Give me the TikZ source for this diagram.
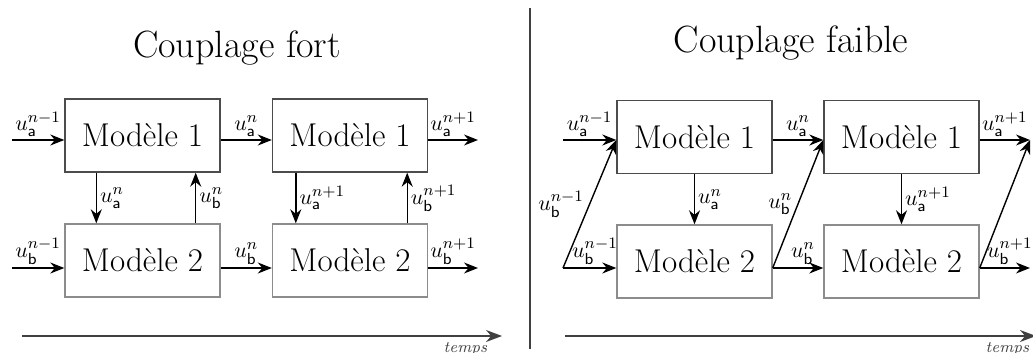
\documentclass[tikz,border=0pt]{standalone}
\usepackage{amsmath}
\usepackage{tikz}
\usetikzlibrary{positioning,arrows.meta}
\tikzset{
  mbox/.style ={rectangle, draw=black!70, fill=white, line width=0.7pt,
                minimum width=77.5pt, minimum height=36.5pt, inner sep=0pt,
                font=\fontsize{16.5}{18}\selectfont},
  mboxb/.style={mbox, draw=black!45},
  arr/.style  ={-{Stealth[length=7pt,width=5.5pt]}, line width=0.7pt},
  ulab/.style ={font=\fontsize{11}{12}\selectfont, inner sep=1.5pt},
  ttl/.style  ={font=\fontsize{19}{22}\selectfont, anchor=base},
  taxis/.style={-{Stealth[length=8pt,width=6pt]}, line width=0.8pt, black!75},
  tlab/.style ={font=\fontsize{8}{9}\selectfont\itshape, inner sep=1pt, anchor=north east},
}
\newcommand{\ua}[1]{$u_{\mathsf{a}}^{#1}$}
\newcommand{\ub}[1]{$u_{\mathsf{b}}^{#1}$}

\begin{document}
\begin{tikzpicture}[x=0.5pt,y=-0.5pt]
  \useasboundingbox (0,0) rectangle (1033,353);

  % couplage fort
  \node[ttl] (tfort) at (237,58) {Couplage fort};
  \node[mbox]  (m1a) at (142.5,135.5) {Mod\`ele 1};
  \node[mbox]  (m1b) at (350,135.5)   {Mod\`ele 1};
  \node[mboxb] (m2a) at (142.5,260.5) {Mod\`ele 2};
  \node[mboxb] (m2b) at (350,260.5)   {Mod\`ele 2};
  \coordinate (ina) at (12,140);
  \coordinate (inb) at (12,268);
  \coordinate (outa) at (478,140);
  \coordinate (outb) at (478,268);

  \draw[arr] (ina) -- (ina -| m1a.west) node[ulab, midway, above] {\ua{n-1}};
  \draw[arr] (inb) -- (inb -| m2a.west) node[ulab, midway, above] {\ub{n-1}};
  \draw[arr] (m1a.east |- ina) -- (m1b.west |- ina) node[ulab, midway, above] {\ua{n}};
  \draw[arr] (m2a.east |- inb) -- (m2b.west |- inb) node[ulab, midway, above] {\ub{n}};
  \draw[arr] (m1b.east |- ina) -- (outa) node[ulab, midway, above] {\ua{n+1}};
  \draw[arr] (m2b.east |- inb) -- (outb) node[ulab, midway, above] {\ub{n+1}};

  \draw[arr] ([xshift=16pt]m1a.south west) -- ([xshift=16pt]m2a.north west)
    node[ulab, midway, right] {\ua{n}};
  \draw[arr] ([xshift=-12.5pt]m2a.north east) -- ([xshift=-12.5pt]m1a.south east)
    node[ulab, midway, right] {\ub{n}};
  \draw[arr] ([xshift=12pt]m1b.south west) -- ([xshift=12pt]m2b.north west)
    node[ulab, midway, right] {\ua{n+1}};
  \draw[arr] ([xshift=-10.5pt]m2b.north east) -- ([xshift=-10.5pt]m1b.south east)
    node[ulab, midway, right] {\ub{n+1}};

  \coordinate (ta0) at (22,336);
  \coordinate (ta1) at (502,336);
  \draw[taxis] (ta0) -- (ta1) node[tlab, xshift=-6pt, yshift=-2pt] {temps};

  % separation
  \coordinate (sep0) at (530,8);
  \coordinate (sep1) at (530,349);
  \draw[line width=0.8pt, black!75] (sep0) -- (sep1);

  % couplage faible
  \node[ttl] (tfaible) at (791,53) {Couplage faible};
  \node[mbox]  (m1c) at (694.5,137)   {Mod\`ele 1};
  \node[mbox]  (m1d) at (901.5,137)   {Mod\`ele 1};
  \node[mboxb] (m2c) at (694.5,261.5) {Mod\`ele 2};
  \node[mboxb] (m2d) at (901.5,261.5) {Mod\`ele 2};
  \coordinate (inc) at (563,140);
  \coordinate (ind) at (563,268);
  \coordinate (outc) at (1030,140);
  \coordinate (outd) at (1030,268);

  \draw[arr] (inc) -- (inc -| m1c.west) node[ulab, midway, above] {\ua{n-1}};
  \draw[arr] (ind) -- (ind -| m2c.west) node[ulab, pos=0.6, above] {\ub{n-1}};
  \draw[arr] (ind) -- (inc -| m1c.west) node[ulab, midway, left=1pt] {\ub{n-1}};

  \draw[arr] (m1c.east |- inc) -- (m1d.west |- inc) node[ulab, midway, above] {\ua{n}};
  \draw[arr] (m2c.east |- ind) -- (m2d.west |- ind) node[ulab, pos=0.6, above] {\ub{n}};
  \draw[arr] (m2c.east |- ind) -- (m1d.west |- inc) node[ulab, midway, left=1pt] {\ub{n}};

  \draw[arr] (m1d.east |- inc) -- (outc) node[ulab, midway, above] {\ua{n+1}};
  \draw[arr] (m2d.east |- ind) -- (outd) node[ulab, pos=0.6, above] {\ub{n+1}};
  \draw[arr] (m2d.east |- ind) -- (outc);

  \draw[arr] (m1c.south) -- (m2c.north) node[ulab, midway, right] {\ua{n}};
  \draw[arr] (m1d.south) -- (m2d.north) node[ulab, midway, right] {\ua{n+1}};

  \coordinate (tb0) at (565,336);
  \coordinate (tb1) at (1036,336);
  \draw[taxis] (tb0) -- (tb1) node[tlab, xshift=-2pt, yshift=-2pt] {temps};
\end{tikzpicture}
\end{document}
